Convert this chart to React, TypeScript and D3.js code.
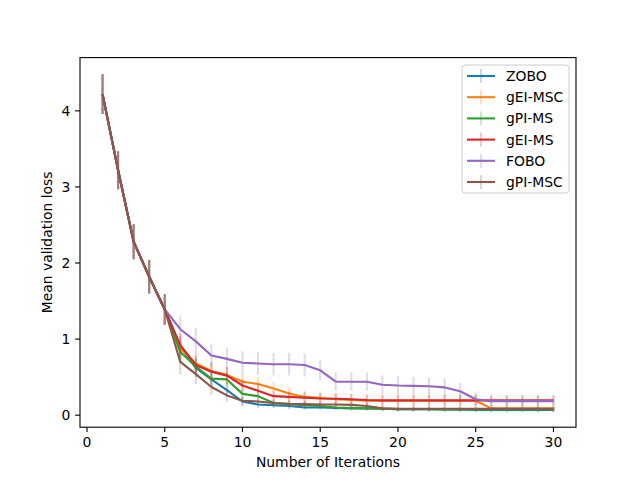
import * as d3 from "d3";

const iterations = [
  1, 2, 3, 4, 5, 6, 7, 8, 9, 10, 11, 12, 13, 14, 15, 16, 17, 18, 19, 20, 21, 22, 23, 24, 25, 26, 27, 28, 29, 30,
];

const zobo = [
  4.22, 3.22, 2.28, 1.82, 1.39, 0.9, 0.62, 0.47, 0.33, 0.18, 0.14, 0.13, 0.12, 0.1, 0.1, 0.095, 0.09, 0.09,
  0.085, 0.08, 0.08, 0.08, 0.075, 0.075, 0.07, 0.07, 0.07, 0.07, 0.07, 0.07,
];
const geiMsc = [
  4.22, 3.22, 2.28, 1.82, 1.39, 0.88, 0.68, 0.58, 0.53, 0.44, 0.41, 0.35, 0.285, 0.24, 0.23, 0.21, 0.2,
  0.19, 0.19, 0.19, 0.19, 0.19, 0.19, 0.19, 0.19, 0.09, 0.09, 0.09, 0.09, 0.09,
];
const gpiMs = [
  4.22, 3.22, 2.28, 1.82, 1.39, 0.83, 0.64, 0.48, 0.47, 0.28, 0.25, 0.16, 0.145, 0.13, 0.12, 0.1, 0.095,
  0.09, 0.085, 0.08, 0.08, 0.08, 0.075, 0.075, 0.075, 0.075, 0.075, 0.075, 0.075, 0.075,
];
const geiMs = [
  4.22, 3.22, 2.28, 1.82, 1.39, 0.92, 0.66, 0.57, 0.52, 0.39, 0.32, 0.25, 0.24, 0.23, 0.22, 0.215, 0.21,
  0.2, 0.195, 0.195, 0.195, 0.195, 0.195, 0.195, 0.195, 0.195, 0.195, 0.195, 0.195, 0.195,
];
const fobo = [
  4.22, 3.22, 2.28, 1.82, 1.39, 1.13, 0.97, 0.785, 0.74, 0.69, 0.68, 0.67, 0.67, 0.66, 0.59, 0.44, 0.44,
  0.44, 0.4, 0.39, 0.385, 0.38, 0.365, 0.315, 0.21, 0.185, 0.185, 0.185, 0.185, 0.185,
];
const gpiMsc = [
  4.22, 3.22, 2.28, 1.82, 1.39, 0.7, 0.54, 0.37, 0.26, 0.19, 0.18, 0.16, 0.15, 0.145, 0.14, 0.14, 0.135,
  0.12, 0.09, 0.085, 0.085, 0.085, 0.085, 0.085, 0.085, 0.085, 0.085, 0.085, 0.085, 0.085,
];

// half lengths of the error bars
const zoboErr = [
  0.26, 0.25, 0.23, 0.22, 0.2, 0.14, 0.12, 0.1, 0.09, 0.06, 0.05, 0.04, 0.04, 0.03, 0.03, 0.03, 0.03, 0.03,
  0.03, 0.03, 0.03, 0.03, 0.03, 0.03, 0.03, 0.03, 0.03, 0.03, 0.03, 0.03,
];
const geiMscErr = [
  0.26, 0.25, 0.23, 0.22, 0.2, 0.15, 0.13, 0.12, 0.11, 0.1, 0.09, 0.09, 0.08, 0.08, 0.08, 0.08, 0.08, 0.08,
  0.08, 0.08, 0.08, 0.08, 0.08, 0.08, 0.08, 0.04, 0.04, 0.04, 0.04, 0.04,
];
const gpiMsErr = [
  0.26, 0.25, 0.23, 0.22, 0.2, 0.14, 0.12, 0.1, 0.1, 0.07, 0.06, 0.04, 0.04, 0.04, 0.03, 0.03, 0.03, 0.03,
  0.03, 0.03, 0.03, 0.03, 0.03, 0.03, 0.03, 0.03, 0.03, 0.03, 0.03, 0.03,
];
const geiMsErr = [
  0.26, 0.25, 0.23, 0.22, 0.2, 0.15, 0.13, 0.12, 0.11, 0.09, 0.08, 0.07, 0.07, 0.07, 0.07, 0.07, 0.07, 0.07,
  0.07, 0.07, 0.07, 0.07, 0.07, 0.07, 0.07, 0.07, 0.07, 0.07, 0.07, 0.07,
];
const foboErr = [
  0.26, 0.25, 0.23, 0.22, 0.2, 0.18, 0.17, 0.15, 0.15, 0.15, 0.15, 0.15, 0.15, 0.15, 0.13, 0.12, 0.12, 0.12,
  0.12, 0.12, 0.12, 0.12, 0.12, 0.11, 0.08, 0.07, 0.07, 0.07, 0.07, 0.07,
];
const gpiMscErr = [
  0.26, 0.25, 0.23, 0.22, 0.2, 0.16, 0.13, 0.1, 0.08, 0.06, 0.05, 0.05, 0.05, 0.04, 0.04, 0.04, 0.04, 0.04,
  0.03, 0.03, 0.03, 0.03, 0.03, 0.03, 0.03, 0.03, 0.03, 0.03, 0.03, 0.03,
];

const series = [
  { name: "ZOBO", values: zobo, err: zoboErr, color: "#1f77b4" },
  { name: "gEI-MSC", values: geiMsc, err: geiMscErr, color: "#ff7f0e" },
  { name: "gPI-MS", values: gpiMs, err: gpiMsErr, color: "#2ca02c" },
  { name: "gEI-MS", values: geiMs, err: geiMsErr, color: "#d62728" },
  { name: "FOBO", values: fobo, err: foboErr, color: "#9467bd" },
  { name: "gPI-MSC", values: gpiMsc, err: gpiMscErr, color: "#8c564b" },
];

const xTicks = [0, 5, 10, 15, 20, 25, 30];
const yTicks = [0, 1, 2, 3, 4];

const W = 640;
const H = 480;
const left = 80;
const right = 576;
const top = 57.6;
const bottom = 427.2;
const font = "DejaVu Sans, sans-serif";
const fs = 13.9;

const App = () => {
  const x = d3.scaleLinear().domain([-0.45, 31.45]).range([left, right]);
  const y = d3.scaleLinear().domain([-0.158, 4.7]).range([bottom, top]);

  const line = d3
    .line<number>()
    .x((_, i) => x(iterations[i]))
    .y((d) => y(d));

  const legLeft = 462;
  const legTop = 65;
  const rowH = 21.2;

  return (
    <div style={{ position: "fixed", left: 0, top: 0 }}>
      <svg width={W} height={H} viewBox={`0 0 ${W} ${H}`} style={{ display: "block", background: "#fff" }}>
        <defs>
          <clipPath id="plot">
            <rect x={left} y={top} width={right - left} height={bottom - top} />
          </clipPath>
        </defs>
        <g clipPath="url(#plot)">
          {series.map((s) => (
            <g key={s.name}>
              {s.values.map((v, i) => (
                <line
                  key={i}
                  x1={x(iterations[i])}
                  x2={x(iterations[i])}
                  y1={y(v - s.err[i])}
                  y2={y(v + s.err[i])}
                  stroke={s.color}
                  strokeOpacity={0.25}
                  strokeWidth={2.1}
                />
              ))}
              <path d={line(s.values) ?? ""} fill="none" stroke={s.color} strokeWidth={2.1} strokeLinejoin="round" />
            </g>
          ))}
        </g>
        <rect x={left} y={top} width={right - left} height={bottom - top} fill="none" stroke="#000" strokeWidth={1.1} />
        {xTicks.map((t) => (
          <g key={t}>
            <line x1={x(t)} x2={x(t)} y1={bottom} y2={bottom + 4.9} stroke="#000" strokeWidth={1.1} />
            <text x={x(t)} y={bottom + 9.7} fontFamily={font} fontSize={fs} textAnchor="middle" dominantBaseline="hanging">
              {t}
            </text>
          </g>
        ))}
        {yTicks.map((t) => (
          <g key={t}>
            <line x1={left - 4.9} x2={left} y1={y(t)} y2={y(t)} stroke="#000" strokeWidth={1.1} />
            <text x={left - 9.7} y={y(t)} fontFamily={font} fontSize={fs} textAnchor="end" dominantBaseline="central">
              {t}
            </text>
          </g>
        ))}
        <text x={(left + right) / 2} y={467} fontFamily={font} fontSize={fs} textAnchor="middle">
          Number of Iterations
        </text>
        <text
          transform={`translate(52,${(top + bottom) / 2}) rotate(-90)`}
          fontFamily={font}
          fontSize={fs}
          textAnchor="middle"
        >
          Mean validation loss
        </text>
        <rect
          x={legLeft}
          y={legTop}
          width={569 - legLeft}
          height={193 - legTop}
          rx={3}
          fill="#fff"
          fillOpacity={0.8}
          stroke="#ccc"
          strokeWidth={1}
        />
        {series.map((s, i) => {
          const cy = legTop + 11 + i * rowH;
          return (
            <g key={s.name}>
              <line x1={481} x2={481} y1={cy - 7} y2={cy + 7} stroke={s.color} strokeOpacity={0.25} strokeWidth={2.1} />
              <line x1={467} x2={495} y1={cy} y2={cy} stroke={s.color} strokeWidth={2.1} />
              <text x={506} y={cy} fontFamily={font} fontSize={fs} dominantBaseline="central">
                {s.name}
              </text>
            </g>
          );
        })}
      </svg>
    </div>
  );
};

export default App;
